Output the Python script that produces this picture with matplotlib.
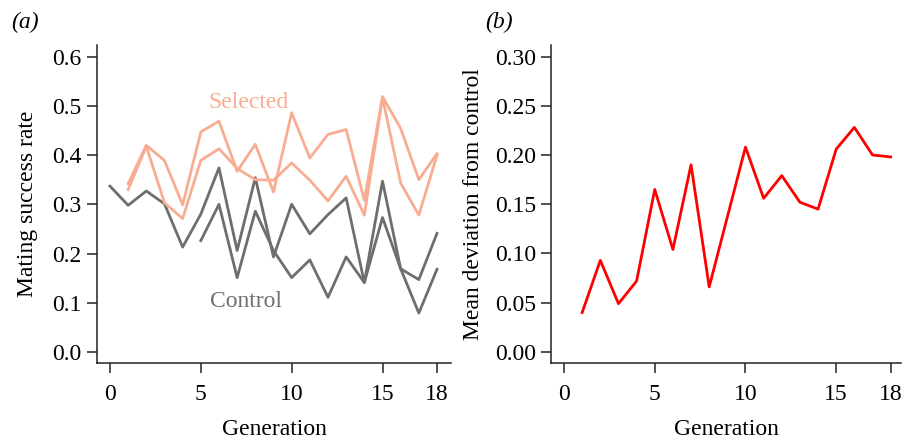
import matplotlib
matplotlib.use("Agg")
import matplotlib.pyplot as plt

plt.rcParams['font.family'] = ['Liberation Serif', 'DejaVu Serif']

generations = list(range(0, 19))
gen_from1 = list(range(1, 19))
gen_from5 = list(range(5, 19))

control_a = [0.337, 0.298, 0.327, 0.301, 0.213, 0.280, 0.374, 0.206, 0.354, 0.193,
             0.300, 0.240, 0.279, 0.313, 0.141, 0.347, 0.169, 0.147, 0.241]
control_b = [0.226, 0.300, 0.151, 0.286, 0.206, 0.151, 0.187, 0.111, 0.193, 0.141,
             0.273, 0.169, 0.079, 0.168]
selected_a = [0.342, 0.420, 0.389, 0.299, 0.447, 0.469, 0.367, 0.422, 0.325, 0.486,
              0.394, 0.442, 0.452, 0.308, 0.519, 0.454, 0.350, 0.403]
selected_b = [0.330, 0.418, 0.303, 0.271, 0.389, 0.413, 0.373, 0.350, 0.349, 0.384,
              0.349, 0.307, 0.357, 0.278, 0.517, 0.343, 0.278, 0.400]
deviation = [0.040, 0.093, 0.049, 0.072, 0.165, 0.104, 0.190, 0.066, 0.137, 0.208,
             0.156, 0.179, 0.152, 0.145, 0.206, 0.228, 0.200, 0.198]

xticks = [0, 5, 10, 15, 18]
yticks_a = [0.0, 0.1, 0.2, 0.3, 0.4, 0.5, 0.6]
yticks_b = [0.00, 0.05, 0.10, 0.15, 0.20, 0.25, 0.30]

sel_color = '#F8AD92'
ctl_color = '#6E6E6E'
fs = 17

fig = plt.figure(figsize=(9.02, 4.41), dpi=100)
ax1 = fig.add_axes([0.1075, 0.177, 0.3925, 0.721])
ax2 = fig.add_axes([0.6109, 0.177, 0.388, 0.721])

lw = 2.0
ax1.plot(generations, control_a, color=ctl_color, lw=lw)
ax1.plot(gen_from5, control_b, color=ctl_color, lw=lw)
ax1.plot(gen_from1, selected_a, color=sel_color, lw=lw)
ax1.plot(gen_from1, selected_b, color=sel_color, lw=lw)
ax1.text(7.6, 0.506, 'Selected', color=sel_color, fontsize=fs, ha='center', va='center')
ax1.text(7.5, 0.102, 'Control', color=ctl_color, fontsize=fs, ha='center', va='center')

ax2.plot(gen_from1, deviation, color='#FF0000', lw=lw)

for ax in (ax1, ax2):
    for s in ('top', 'right'):
        ax.spines[s].set_visible(False)
    for s in ('left', 'bottom'):
        ax.spines[s].set_linewidth(1.1)
        ax.spines[s].set_color('#222222')
    ax.tick_params(direction='out', length=7, width=1.1, color='#222222',
                   labelsize=fs)
    ax.tick_params(axis='x', pad=8)
    ax.tick_params(axis='y', pad=4)
    ax.set_xticks(xticks)
    ax.set_xticklabels([str(t) for t in xticks])
    ax.set_xlabel('Generation', fontsize=fs, labelpad=10)

ax1.set_xlim(-0.715, 18.77)
ax1.set_ylim(-0.0224, 0.6238)
ax1.set_yticks(yticks_a)
ax1.set_yticklabels([f'{t:.1f}' for t in yticks_a])
ax1.set_ylabel('Mating success rate', fontsize=fs, labelpad=10)

ax2.set_xlim(-0.716, 18.57)
ax2.set_ylim(-0.0112, 0.3117)
ax2.set_yticks(yticks_b)
ax2.set_yticklabels([f'{t:.2f}' for t in yticks_b])
ax2.set_ylabel('Mean deviation from control', fontsize=fs, labelpad=8)

fig.text(0.012, 0.95, '(a)', fontsize=fs, style='italic', va='center', ha='left')
fig.text(0.538, 0.95, '(b)', fontsize=fs, style='italic', va='center', ha='left')

fig.savefig('out.png', dpi=100)
